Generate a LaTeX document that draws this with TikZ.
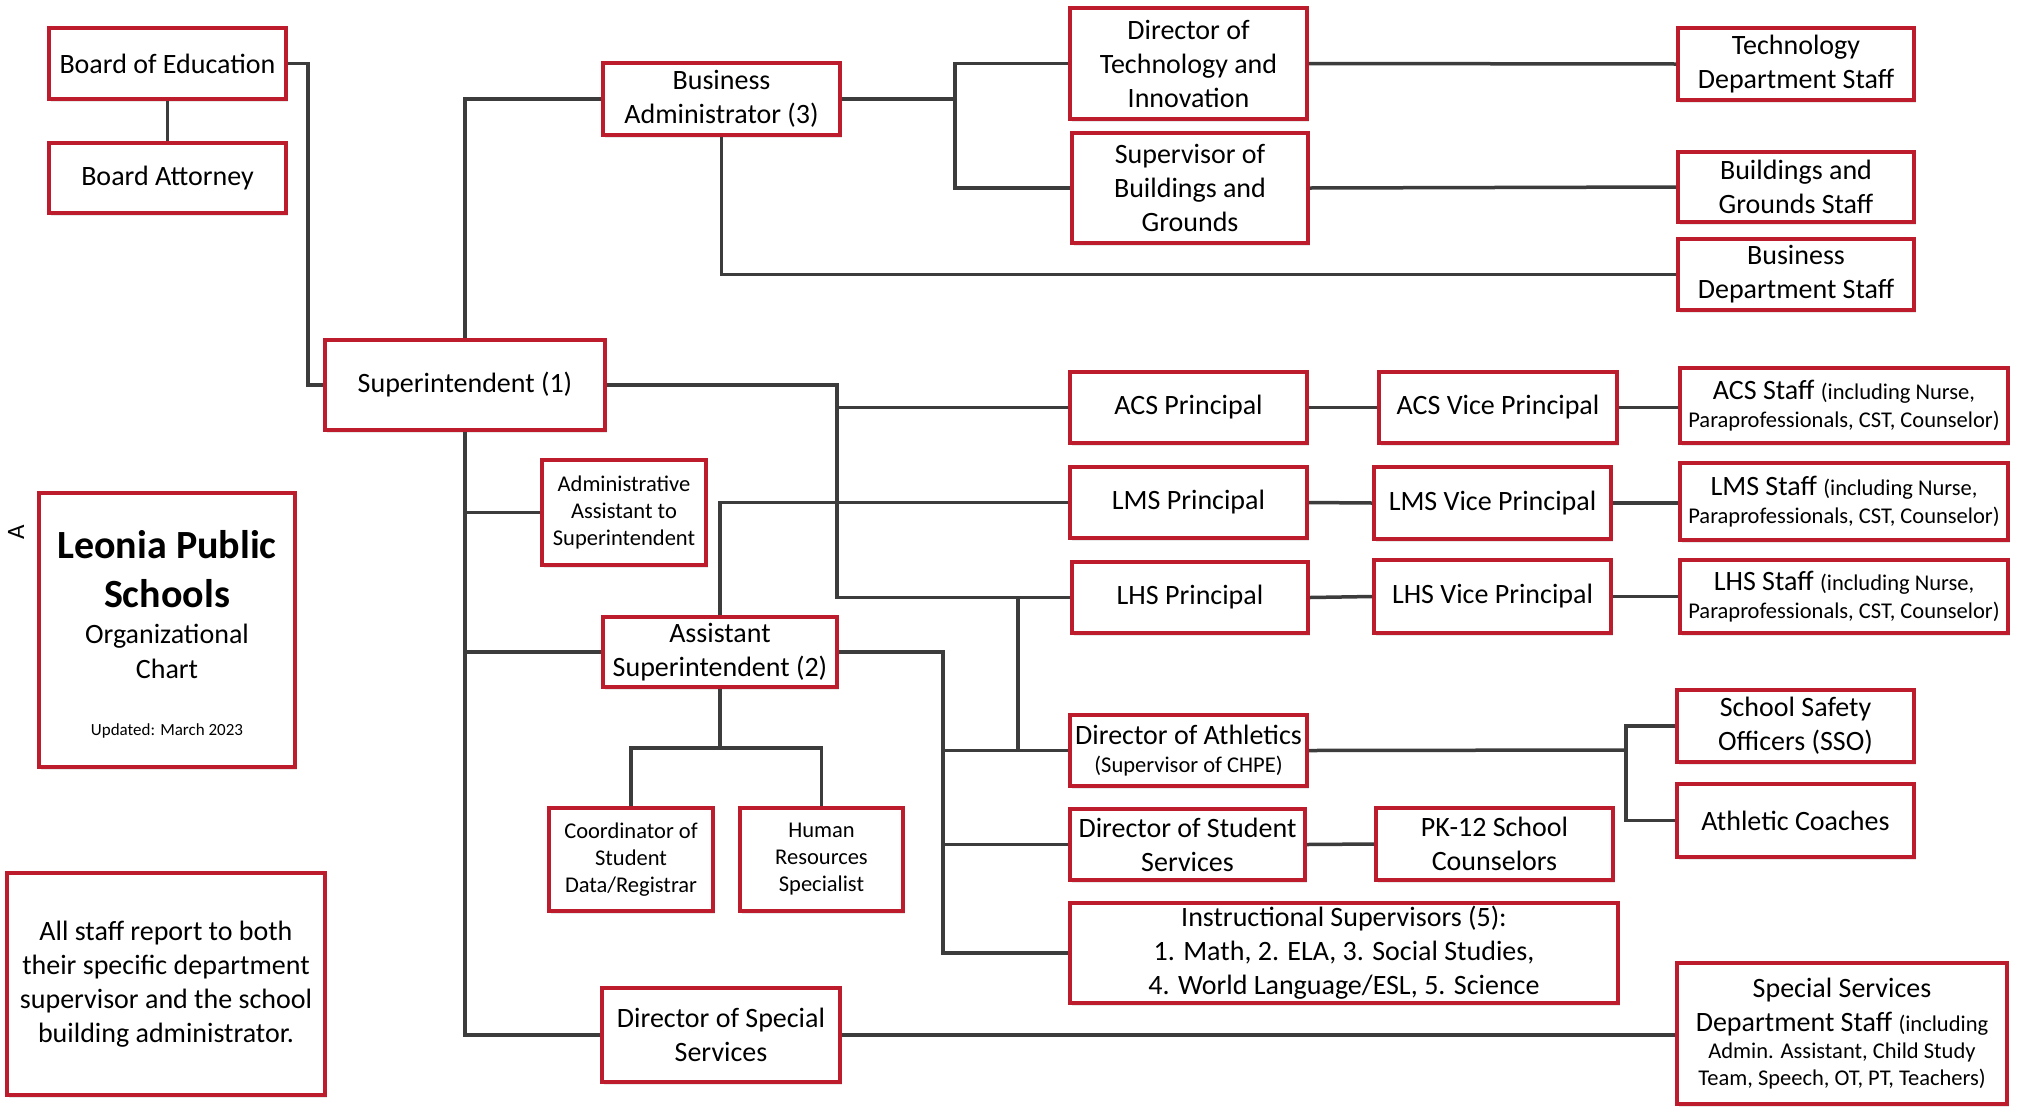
\documentclass[tikz,border=0pt]{standalone}
\usepackage{fontspec}
\setmainfont{Carlito}
\usetikzlibrary{shadows,calc}
\definecolor{boxred}{RGB}{188,28,44}
\definecolor{lnc}{RGB}{60,60,60}
\newcommand\fmain{\fontsize{28}{34}\selectfont}
\newcommand\fsm{\fontsize{22.5}{27}\selectfont}
\newcommand\fbig{\fontsize{40}{48}\selectfont\bfseries}
\newcommand\ftiny{\fontsize{17}{20}\selectfont}
\newcommand\orgbox[7][]{%
 \pgfmathsetmacro\bxcx{(#3+#5)/2}\pgfmathsetmacro\bxcy{(#4+#6)/2}%
 \pgfmathsetmacro\bxw{#5-#3}\pgfmathsetmacro\bxh{#6-#4}%
 \node[box,minimum width=\bxw pt,minimum height=\bxh pt,#1] (#2) at (\bxcx,\bxcy) {#7};}
\begin{document}
\begin{tikzpicture}[x=1pt,y=-1pt,
 box/.style={draw=boxred,line width=3.8pt,fill=white,inner sep=0pt,align=center,font=\fmain,
   drop shadow={shadow xshift=2pt,shadow yshift=-3pt,opacity=0.18}},
 conn/.style={draw=lnc,line width=3.5pt}]
\useasboundingbox (0,0) rectangle (2020,1106);
\fill[white] (0,0) rectangle (2020,1106);

\orgbox{boe}{49}{28}{286}{99}{Board of Education}
\orgbox{ba}{49}{143}{286}{213}{Board Attorney}
\orgbox{sup}{325}{340}{605}{430}{Superintendent (1)}
\orgbox{busadm}{603}{63}{840}{135}{Business\\Administrator (3)}
\orgbox{dirtech}{1070}{8}{1307}{119}{Director of\\Technology and\\Innovation}
\orgbox{supbg}{1072}{133}{1308}{243}{Supervisor of\\Buildings and\\Grounds}
\orgbox{techstaff}{1678}{28}{1914}{100}{Technology\\Department Staff}
\orgbox{bgstaff}{1678}{152}{1914}{222}{Buildings and\\Grounds Staff}
\orgbox{busstaff}{1678}{239}{1914}{310}{Business\\Department Staff}
\orgbox{acsp}{1070}{372}{1307}{443}{ACS Principal}
\orgbox{acsvp}{1379}{372}{1617}{443}{ACS Vice Principal}
\orgbox{acsstaff}{1680}{368}{2008}{443}{ACS Staff {\fsm (including Nurse,}\\[-6pt]{\fsm Paraprofessionals, CST, Counselor)}}
\orgbox{lmsp}{1070}{467}{1307}{538}{LMS Principal}
\orgbox{lmsvp}{1374}{467}{1611}{539}{LMS Vice Principal}
\orgbox{lmsstaff}{1680}{463}{2008}{540}{LMS Staff {\fsm (including Nurse,}\\[-6pt]{\fsm Paraprofessionals, CST, Counselor)}}
\orgbox{lhsp}{1072}{562}{1308}{633}{LHS Principal}
\orgbox{lhsvp}{1374}{560}{1611}{633}{LHS Vice Principal}
\orgbox{lhsstaff}{1680}{560}{2008}{633}{LHS Staff {\fsm (including Nurse,}\\[-6pt]{\fsm Paraprofessionals, CST, Counselor)}}
\orgbox[font=\fsm]{admin}{542}{460}{706}{565}{Administrative\\Assistant to\\Superintendent}
\orgbox{asup}{603}{617}{837}{687}{Assistant\\Superintendent (2)}
\orgbox{leonia}{39}{493}{295}{767}{}
\orgbox{ath}{1070}{715}{1307}{786}{Director of Athletics\\[-6pt]{\fsm (Supervisor of CHPE)}}
\orgbox{sso}{1677}{690}{1914}{762}{School Safety\\Officers (SSO)}
\orgbox{coaches}{1677}{784}{1914}{857}{Athletic Coaches}
\orgbox{dss}{1070}{809}{1305}{880}{Director of Student\\Services}
\orgbox{pk12}{1376}{808}{1613}{880}{PK-12 School\\Counselors}
\orgbox[font=\fsm]{coord}{549}{808}{713}{911}{Coordinator of\\Student\\Data/Registrar}
\orgbox[font=\fsm]{hr}{740}{808}{903}{911}{Human\\Resources\\Specialist}
\orgbox{instr}{1070}{903}{1618}{1003}{Instructional Supervisors (5):\\1. Math, 2. ELA, 3. Social Studies,\\4. World Language/ESL, 5. Science}
\orgbox{dirss}{602}{988}{840}{1082}{Director of Special\\Services}
\orgbox{spstaff}{1677}{963}{2007}{1104}{Special Services\\Department Staff {\fsm (including}\\[-7pt]{\fsm Admin. Assistant, Child Study}\\[-7pt]{\fsm Team, Speech, OT, PT, Teachers)}}
\orgbox{allstaff}{7}{873}{325}{1095}{All staff report to both\\their specific department\\supervisor and the school\\building administrator.}

% title texts
\node[font=\fbig,anchor=base] (lt1) at (167,558) {Leonia Public};
\node[font=\fbig,anchor=base] (lt2) at (167,607) {Schools};
\node[font=\fmain,anchor=base] (lt3) at (167,643) {Organizational};
\node[font=\fmain,anchor=base] (lt4) at (167,678) {Chart};
\node[font=\ftiny,anchor=base] (lt5) at (167,735) {Updated: March 2023};
\node[font=\fontsize{25}{30}\selectfont,rotate=90,inner sep=0pt] (mark) at (16,532) {A};

% connectors
\draw[conn] (boe.east) -- ++(20,0) |- (sup.west);
\draw[conn] (boe.south) -- (ba.north);
\draw[conn] (sup.north) |- (busadm.west);
\coordinate (jb) at (955,99);
\draw[conn] (busadm.east) -- (jb);
\draw[conn] (dirtech.west) -| (jb) |- (supbg.west);
\draw[conn] (busadm.south) |- (busstaff.west);
\draw[conn] (dirtech.east) -- (techstaff.west);
\draw[conn] (supbg.east) -- (bgstaff.west);
\coordinate (js) at (837,385);
\draw[conn] (sup.east) -- (js) |- (lhsp.west);
\draw[conn] (acsp.west) -- (acsp.west -| js);
\draw[conn] (acsp.east) -- (acsvp.west);
\draw[conn] (acsvp.east) -- (acsvp.east -| acsstaff.west);
\draw[conn] (lmsp.east) -- (lmsvp.west);
\draw[conn] (lmsvp.east) -- (lmsvp.east -| lmsstaff.west);
\draw[conn] (lhsp.east) -- (lhsvp.west);
\draw[conn] (lhsvp.east) -- (lhsvp.east -| lhsstaff.west);
\draw[conn] (asup.north) |- (lmsp.west);
\draw[conn] (sup.south) |- (dirss.west);
\draw[conn] (admin.west) -- (admin.west -| sup.south);
\draw[conn] (asup.west) -- (asup.west -| sup.south);
\coordinate (ja) at (943,652);
\draw[conn] (asup.east) -- (ja) |- (instr.west);
\draw[conn] (ath.west) -- (ath.west -| ja);
\draw[conn] (dss.west) -- (dss.west -| ja);
\coordinate (jl) at (1018,598);
\draw[conn] (jl) -- (jl |- ath.west);
\coordinate (jt) at (1626,750);
\draw[conn] (ath.east) -- (jt);
\draw[conn] (sso.west) -| (jt) |- (coaches.west);
\draw[conn] (dss.east) -- (pk12.west);
\coordinate (jw) at (720,748);
\draw[conn] (asup.south) -- (jw);
\draw[conn] (coord.north) |- (jw) -| (hr.north);
\draw[conn] (dirss.east) -- (dirss.east -| spstaff.west);
\end{tikzpicture}
\end{document}
